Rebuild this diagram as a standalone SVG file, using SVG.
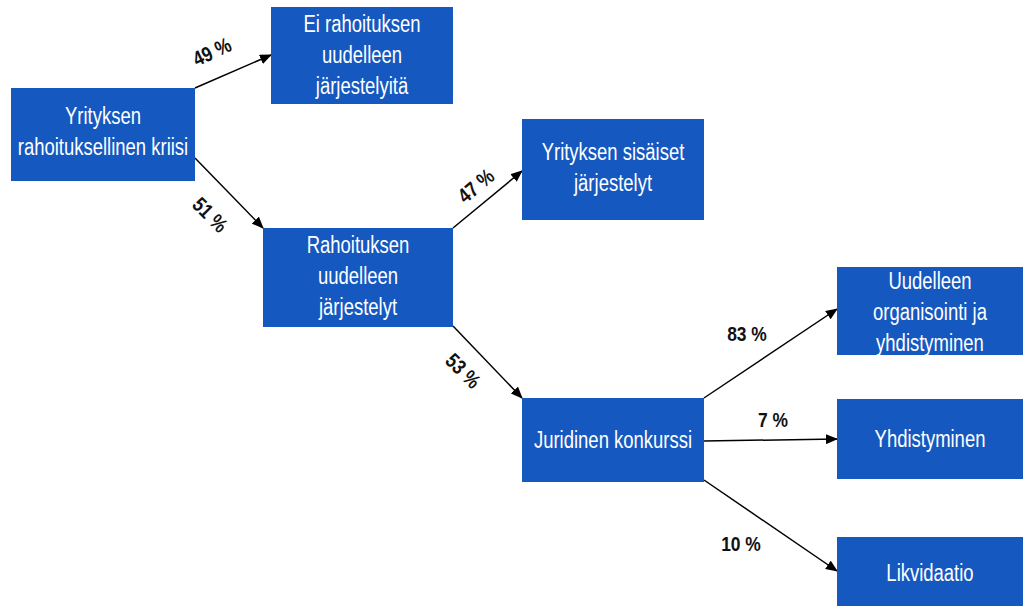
<svg xmlns="http://www.w3.org/2000/svg" width="1023" height="606" viewBox="0 0 1023 606">
<style>
.box{fill:#1558C0;}
.t{font-family:"Liberation Sans",Arial,sans-serif;font-size:24px;fill:#ffffff;text-anchor:middle;dominant-baseline:central;}
.l{font-family:"Liberation Sans",Arial,sans-serif;font-size:21px;font-weight:bold;fill:#111111;text-anchor:middle;dominant-baseline:central;}
.c{stroke:#000000;stroke-width:1.5;fill:none;marker-end:url(#ah);}
</style>
<defs>
<marker id="ah" markerUnits="userSpaceOnUse" markerWidth="12" markerHeight="10" refX="11" refY="5" orient="auto">
<path d="M0,0 L12,5 L0,10 Z" fill="#000000"/>
</marker>
</defs>
<rect width="1023" height="606" fill="#ffffff"/>
<g id="connectors">
<line class="c" x1="195" y1="88" x2="271" y2="55"/>
<line class="c" x1="195" y1="158" x2="263" y2="228"/>
<line class="c" x1="453" y1="228" x2="522" y2="171"/>
<line class="c" x1="453" y1="326" x2="522" y2="398"/>
<line class="c" x1="704" y1="398" x2="837" y2="309"/>
<line class="c" x1="704" y1="441" x2="837" y2="439"/>
<line class="c" x1="704" y1="480" x2="837" y2="571"/>
<text class="l" transform="translate(212,52) rotate(-25) scale(0.83,1)">49 %</text>
<text class="l" transform="translate(210,215) rotate(45) scale(0.83,1)">51 %</text>
<text class="l" transform="translate(476,186) rotate(-40) scale(0.83,1)">47 %</text>
<text class="l" transform="translate(463,371) rotate(45) scale(0.83,1)">53 %</text>
<text class="l" transform="matrix(0.83 0 0 1 747 334)">83 %</text>
<text class="l" transform="matrix(0.83 0 0 1 773 420)">7 %</text>
<text class="l" transform="matrix(0.83 0 0 1 741 544)">10 %</text>
</g>
<g id="n1">
<rect class="box" x="11" y="88" width="184" height="93"/>
<text class="t" transform="matrix(0.77 0 0 1 103 116)">Yrityksen</text>
<text class="t" transform="matrix(0.77 0 0 1 103 147)">rahoituksellinen kriisi</text>
</g>
<g id="n2">
<rect class="box" x="271" y="7" width="182" height="97"/>
<text class="t" transform="matrix(0.77 0 0 1 362 24)">Ei rahoituksen</text>
<text class="t" transform="matrix(0.77 0 0 1 362 55)">uudelleen</text>
<text class="t" transform="matrix(0.77 0 0 1 362 86)">järjestelyitä</text>
</g>
<g id="n3">
<rect class="box" x="263" y="228" width="190" height="99"/>
<text class="t" transform="matrix(0.77 0 0 1 358 245)">Rahoituksen</text>
<text class="t" transform="matrix(0.77 0 0 1 358 276)">uudelleen</text>
<text class="t" transform="matrix(0.77 0 0 1 358 307)">järjestelyt</text>
</g>
<g id="n4">
<rect class="box" x="522" y="119" width="182" height="101"/>
<text class="t" transform="matrix(0.77 0 0 1 613 152)">Yrityksen sisäiset</text>
<text class="t" transform="matrix(0.77 0 0 1 613 183)">järjestelyt</text>
</g>
<g id="n5">
<rect class="box" x="522" y="398" width="182" height="84"/>
<text class="t" transform="matrix(0.77 0 0 1 613 440)">Juridinen konkurssi</text>
</g>
<g id="n6">
<rect class="box" x="837" y="267" width="186" height="88"/>
<text class="t" transform="matrix(0.77 0 0 1 930 281)">Uudelleen</text>
<text class="t" transform="matrix(0.77 0 0 1 930 312)">organisointi ja</text>
<text class="t" transform="matrix(0.77 0 0 1 930 343)">yhdistyminen</text>
</g>
<g id="n7">
<rect class="box" x="837" y="399" width="186" height="80"/>
<text class="t" transform="matrix(0.77 0 0 1 930 439)">Yhdistyminen</text>
</g>
<g id="n8">
<rect class="box" x="837" y="537" width="186" height="69"/>
<text class="t" transform="matrix(0.77 0 0 1 930 573)">Likvidaatio</text>
</g>
</svg>
